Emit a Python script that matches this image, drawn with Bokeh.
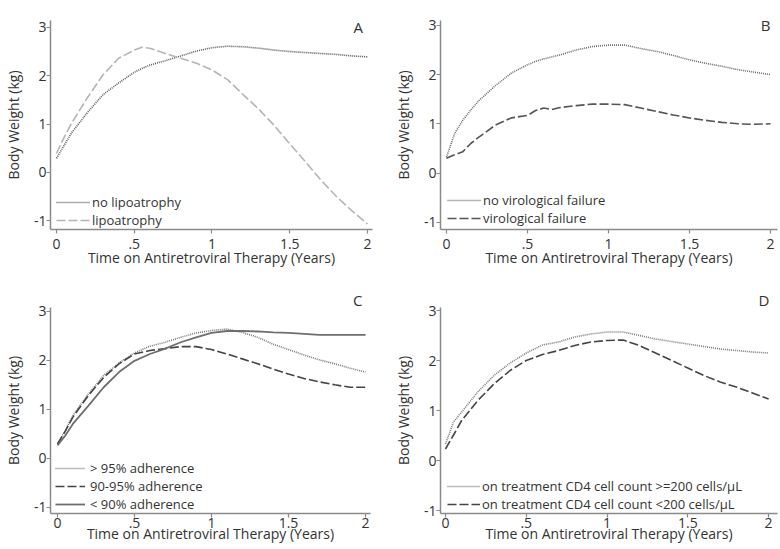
from bokeh.plotting import figure
from bokeh.layouts import column, row
from bokeh.models import Legend, LegendItem, Label, FixedTicker, Title
from bokeh.embed import file_html
from bokeh.resources import INLINE

# ---------------- data ----------------
# Panel A
years_a = [0.0, 0.05, 0.1, 0.2, 0.3, 0.4, 0.5, 0.55, 0.6, 0.7, 0.8, 0.9, 1.0, 1.1, 1.2,
           1.3, 1.4, 1.5, 1.6, 1.7, 1.8, 1.9, 2.0]
no_lipo = [0.29, 0.56, 0.83, 1.24, 1.61, 1.85, 2.07, 2.15, 2.22, 2.31, 2.41, 2.51, 2.58, 2.61, 2.60,
           2.57, 2.53, 2.50, 2.48, 2.46, 2.44, 2.41, 2.39]
lipo = [0.39, 0.73, 1.03, 1.55, 2.02, 2.36, 2.53, 2.59, 2.57, 2.46, 2.36, 2.26, 2.12, 1.92, 1.61,
        1.31, 0.97, 0.59, 0.22, -0.16, -0.50, -0.80, -1.07]

# Panel B
years_b = [0.0, 0.05, 0.1, 0.15, 0.2, 0.3, 0.4, 0.5, 0.55, 0.6, 0.65, 0.7, 0.8, 0.9, 1.0, 1.1, 1.2,
           1.3, 1.4, 1.5, 1.6, 1.7, 1.8, 1.9, 2.0]
no_vf = [0.32, 0.80, 1.07, 1.28, 1.47, 1.77, 2.03, 2.20, 2.27, 2.32, 2.36, 2.40, 2.50, 2.57, 2.60, 2.60, 2.53,
         2.47, 2.39, 2.30, 2.23, 2.17, 2.10, 2.05, 2.00]
vf = [0.30, 0.37, 0.43, 0.60, 0.73, 0.97, 1.12, 1.17, 1.27, 1.32, 1.29, 1.33, 1.37, 1.40, 1.40, 1.39, 1.32,
      1.25, 1.18, 1.12, 1.07, 1.03, 1.00, 0.99, 1.00]

# Panel C
years_c = [0.0, 0.05, 0.1, 0.2, 0.3, 0.4, 0.5, 0.6, 0.7, 0.8, 0.9, 1.0, 1.1, 1.2,
           1.3, 1.4, 1.5, 1.6, 1.7, 1.8, 1.9, 2.0]
adh_gt95 = [0.29, 0.56, 0.87, 1.31, 1.69, 1.95, 2.15, 2.29, 2.37, 2.47, 2.56, 2.61, 2.64, 2.57,
            2.47, 2.33, 2.22, 2.11, 2.01, 1.93, 1.84, 1.76]
adh_90_95 = [0.29, 0.55, 0.84, 1.28, 1.65, 1.93, 2.13, 2.20, 2.24, 2.28, 2.28, 2.22, 2.13, 2.03,
             1.93, 1.82, 1.72, 1.63, 1.56, 1.50, 1.45, 1.45]
adh_lt90 = [0.26, 0.46, 0.70, 1.07, 1.45, 1.76, 1.99, 2.13, 2.24, 2.37, 2.47, 2.56, 2.60, 2.60,
            2.59, 2.57, 2.56, 2.54, 2.52, 2.52, 2.52, 2.52]

# Panel D
years_d = [0.0, 0.05, 0.1, 0.2, 0.3, 0.4, 0.5, 0.6, 0.7, 0.8, 0.9, 1.0, 1.1, 1.2,
           1.3, 1.4, 1.5, 1.6, 1.7, 1.8, 1.9, 2.0]
cd4_ge200 = [0.33, 0.77, 0.97, 1.37, 1.70, 1.95, 2.15, 2.31, 2.37, 2.47, 2.53, 2.57, 2.57, 2.50,
             2.43, 2.38, 2.33, 2.28, 2.23, 2.20, 2.17, 2.15]
cd4_lt200 = [0.23, 0.51, 0.80, 1.20, 1.53, 1.80, 2.00, 2.12, 2.20, 2.30, 2.37, 2.40, 2.41, 2.30,
             2.15, 2.00, 1.85, 1.70, 1.57, 1.47, 1.35, 1.23]

x_ticks = [0, 0.5, 1, 1.5, 2]
x_tick_labels = ["0", ".5", "1", "1.5", "2"]
y_ticks = [-1, 0, 1, 2, 3]
y_tick_labels = ["-1", "0", "1", "2", "3"]
x_title = "Time on Antiretroviral Therapy (Years)"
y_title = "Body Weight (kg)"

FONT = "Open Sans"
TXT = "#333333"
AXC = "#8a8a8a"


def make_panel(width, height, left, right, top, bottom, xr, yr, lab_standoff, title_standoff):
    p = figure(width=width, height=height, x_range=xr, y_range=yr,
               output_backend="svg", toolbar_location=None,
               min_border_left=left, min_border_right=right,
               min_border_top=top, min_border_bottom=bottom)
    p.outline_line_color = None
    p.grid.visible = False
    p.background_fill_color = "white"
    p.border_fill_color = "white"
    p.axis.axis_line_color = AXC
    p.axis.axis_line_width = 1.5
    p.axis.major_tick_line_color = AXC
    p.axis.major_tick_line_width = 1.2
    p.axis.major_tick_out = 4
    p.axis.major_tick_in = 0
    p.axis.minor_tick_line_color = None
    p.axis.major_label_text_font = FONT
    p.axis.major_label_text_font_size = "14px"
    p.axis.major_label_text_color = TXT
    p.axis.axis_label_text_font = FONT
    p.axis.axis_label_text_font_size = "14px"
    p.axis.axis_label_text_font_style = "normal"
    p.axis.axis_label_text_color = TXT
    p.xaxis.ticker = FixedTicker(ticks=x_ticks)
    p.xaxis.major_label_overrides = {t: s for t, s in zip(x_ticks, x_tick_labels)}
    p.yaxis.ticker = FixedTicker(ticks=y_ticks)
    p.yaxis.major_label_overrides = {t: s for t, s in zip(y_ticks, y_tick_labels)}
    p.yaxis.major_label_orientation = "horizontal"
    p.xaxis.axis_label = x_title
    p.yaxis.axis_label = y_title
    p.xaxis.major_label_standoff = lab_standoff
    p.xaxis.axis_label_standoff = title_standoff
    p.yaxis.major_label_standoff = 0
    p.yaxis.axis_label_standoff = 8
    return p


def add_legend(p, labels, renderers, x_off, y_off, glyph_w, standoff):
    items = [LegendItem(label=l, renderers=[r]) for l, r in zip(labels, renderers)]
    leg = Legend(items=items, location=(x_off, y_off), padding=0, margin=0,
                 spacing=0, glyph_width=glyph_w, glyph_height=16, label_height=16,
                 label_standoff=standoff, background_fill_alpha=0, border_line_color=None,
                 label_text_font=FONT, label_text_font_size="13px", label_text_color=TXT)
    p.add_layout(leg, "center")


def add_letter_inside(p, letter, x, y):
    p.add_layout(Label(x=x, y=y, text=letter, text_font=FONT, text_font_size="15px",
                       text_color=TXT, text_align="center", text_baseline="middle"))


def add_letter_above(p, letter, offset):
    p.add_layout(Title(text=letter, align="right", offset=offset, standoff=-4,
                       text_font=FONT, text_font_size="15px", text_font_style="normal",
                       text_color=TXT), "above")


# ---------------- Panel A ----------------
pa = make_panel(390, 275, 48, 18, 17, 46, (-0.0383, 2.032), (-1.184, 3.143), 5, -4)
ra1 = pa.line(years_a, no_lipo, line_color="#5a5a5a", line_width=1.6, line_dash="1 1")
ra2 = pa.line(years_a, lipo, line_color="#b5b5b5", line_width=1.6, line_dash="9 3")
add_legend(pa, ["no lipoatrophy", "lipoatrophy"], [ra1, ra2], 6, 0, 34, 2)
add_letter_inside(pa, "A", 1.94, 3.0)

# ---------------- Panel B ----------------
pb = make_panel(390, 275, 48, 3, 20, 45, (-0.0368, 2.043), (-1.148, 3.10), 5, -4)
rb1 = pb.line(years_b, no_vf, line_color="#6a6a6a", line_width=1.6, line_dash="1 1")
rb2 = pb.line(years_b, vf, line_color="#555555", line_width=1.6, line_dash="9 3")
add_legend(pb, ["no virological failure", "virological failure"], [rb1, rb2], 7, 2, 34, 2)
add_letter_inside(pb, "B", 1.97, 3.0)

# ---------------- Panel C ----------------
pc = make_panel(390, 274, 48, 20, 32, 36, (-0.0452, 2.032), (-1.13, 3.08), 0, -7)
rc1 = pc.line(years_c, adh_gt95, line_color="#7a7a7a", line_width=1.6, line_dash="1 1")
rc2 = pc.line(years_c, adh_90_95, line_color="#444444", line_width=1.6, line_dash="9 3")
rc3 = pc.line(years_c, adh_lt90, line_color="#6e6e6e", line_width=1.8)
add_legend(pc, ["> 95% adherence", "90-95% adherence", "< 90% adherence"],
           [rc1, rc2, rc3], 5, 0, 30, 5)
add_letter_above(pc, "C", 8)

# ---------------- Panel D ----------------
pd_ = make_panel(390, 274, 48, 3, 32, 36, (-0.0308, 2.055), (-1.06, 3.06), 0, -7)
rd1 = pd_.line(years_d, cd4_ge200, line_color="#7a7a7a", line_width=1.6, line_dash="1 1")
rd2 = pd_.line(years_d, cd4_lt200, line_color="#444444", line_width=1.6, line_dash="9 3")
add_legend(pd_, ["on treatment CD4 cell count >=200 cells/\u00b5L",
                 "on treatment CD4 cell count <200 cells/\u00b5L"], [rd1, rd2], 7, 0, 33, 2)
add_letter_above(pd_, "D", 8)

layout = column(row(pa, pb), row(pc, pd_))

open("out.html", "w").write(file_html(layout, INLINE))
